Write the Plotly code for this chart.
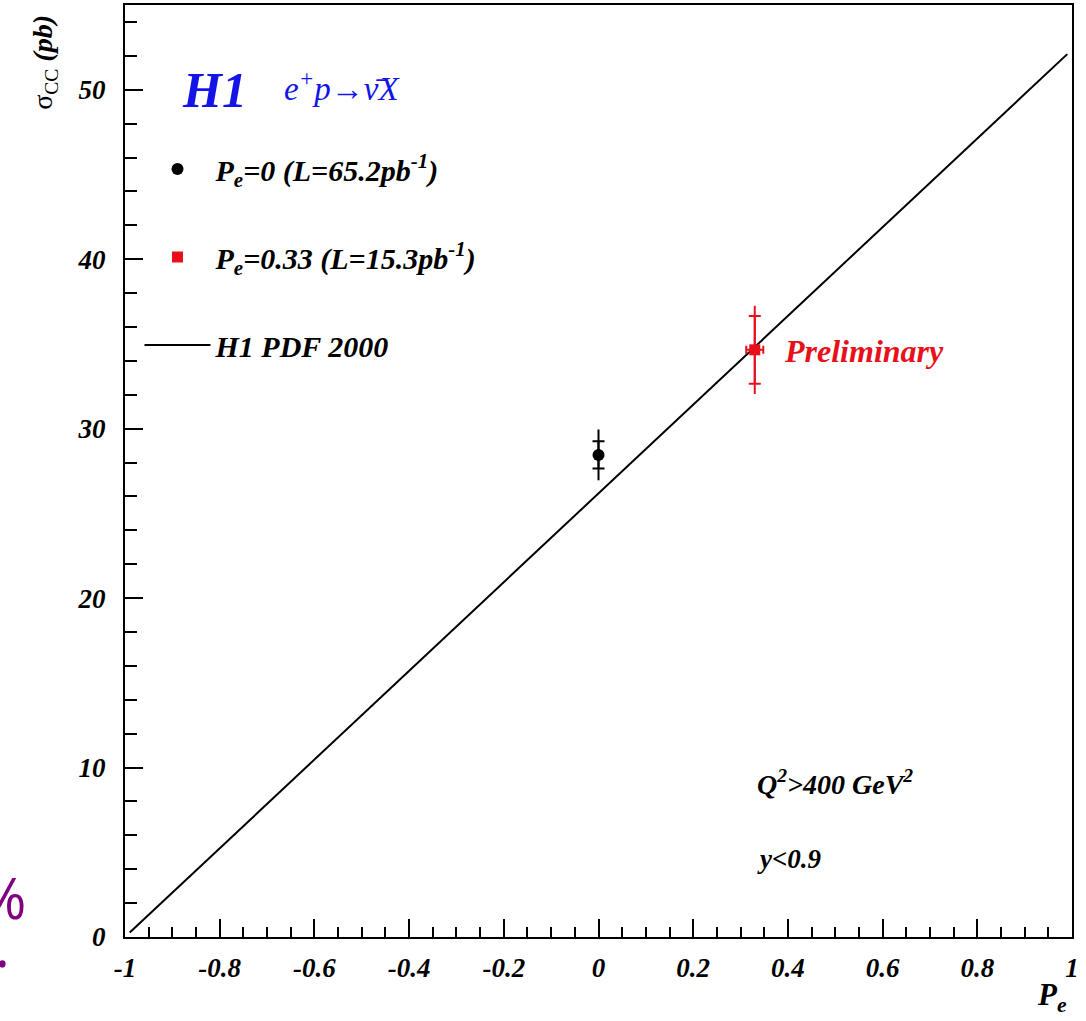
import plotly.graph_objects as go

# ---- data ----
pdf_x = [-0.99, 0.99]
pdf_y = [0.26, 52.1]

pe0_x = [0.0]
pe0_y = [28.45]
pe0_stat = [0.8]
pe0_tot = [1.5]

pe33_x = [0.33]
pe33_y = [34.65]
pe33_stat = [2.0]
pe33_tot = [2.6]
pe33_xerr = [0.018]

x_tickvals = [-1, -0.8, -0.6, -0.4, -0.2, 0, 0.2, 0.4, 0.6, 0.8, 1]
x_ticktext = ["-1", "-0.8", "-0.6", "-0.4", "-0.2", "0", "0.2", "0.4", "0.6", "0.8", "1"]
y_tickvals = [0, 10, 20, 30, 40, 50]
y_ticktext = ["0", "10", "20", "30", "40", "50"]

SERIF = "Liberation Serif, Times New Roman, serif"
RED = "#e8101a"
BLUE = "#1414e6"
PURPLE = "#800080"

fig = go.Figure()

fig.add_trace(go.Scatter(x=pdf_x, y=pdf_y, mode="lines",
                         line=dict(color="black", width=2),
                         name="<b><i>H1 PDF 2000</i></b>", legendrank=3,
                         legendgroup="c"))

# black point: total and stat errors
fig.add_trace(go.Scatter(x=pe0_x, y=pe0_y, mode="markers", marker=dict(size=1, color="black", opacity=0),
                         error_y=dict(type="data", array=pe0_tot, color="black", thickness=2, width=0),
                         showlegend=False, hoverinfo="skip"))
fig.add_trace(go.Scatter(x=pe0_x, y=pe0_y, mode="markers", marker=dict(size=1, color="black", opacity=0),
                         error_y=dict(type="data", array=pe0_stat, color="black", thickness=2, width=6),
                         showlegend=False, hoverinfo="skip"))
fig.add_trace(go.Scatter(x=pe0_x, y=pe0_y, mode="markers",
                         marker=dict(symbol="circle", size=12, color="black"),
                         name="<b><i>P<sub>e</sub>=0 (L=65.2pb<sup>-1</sup>)</i></b>",
                         legendrank=1, legendgroup="a"))

# red point
fig.add_trace(go.Scatter(x=pe33_x, y=pe33_y, mode="markers", marker=dict(size=1, color=RED, opacity=0),
                         error_y=dict(type="data", array=pe33_tot, color=RED, thickness=2, width=0),
                         error_x=dict(type="data", array=pe33_xerr, color=RED, thickness=2, width=4),
                         showlegend=False, hoverinfo="skip"))
fig.add_trace(go.Scatter(x=pe33_x, y=pe33_y, mode="markers", marker=dict(size=1, color=RED, opacity=0),
                         error_y=dict(type="data", array=pe33_stat, color=RED, thickness=2, width=6),
                         showlegend=False, hoverinfo="skip"))
fig.add_trace(go.Scatter(x=pe33_x, y=pe33_y, mode="markers",
                         marker=dict(symbol="square", size=11, color=RED),
                         name="<b><i>P<sub>e</sub>=0.33 (L=15.3pb<sup>-1</sup>)</i></b>",
                         legendrank=2, legendgroup="b"))

axis_common = dict(showgrid=False, zeroline=False, showline=True, linecolor="black",
                   linewidth=2, mirror=True, ticks="inside", tickcolor="black", tickwidth=2,
                   tickfont=dict(family=SERIF, size=27, color="black", style="italic", weight="bold"))

fig.update_xaxes(range=[-1, 1], tickvals=x_tickvals, ticktext=x_ticktext, ticklen=18,
                 minor=dict(ticks="inside", dtick=0.05, tick0=0, ticklen=10, tickwidth=2, tickcolor="black"),
                 ticklabelstandoff=6, automargin=False, **axis_common)
fig.update_yaxes(range=[0, 55], tickvals=y_tickvals, ticktext=y_ticktext, ticklen=18,
                 minor=dict(ticks="inside", dtick=2, tick0=0, ticklen=12, tickwidth=2, tickcolor="black"),
                 ticklabelstandoff=12, automargin=False, **axis_common)

fig.update_layout(
    width=1086, height=1021,
    margin=dict(l=125, r=14, t=5, b=84),
    paper_bgcolor="white", plot_bgcolor="white",
    showlegend=True,
    legend=dict(x=0.0153, y=0.852, xanchor="left", yanchor="top",
                font=dict(family=SERIF, size=30, color="black"),
                bgcolor="rgba(0,0,0,0)", borderwidth=0,
                tracegroupgap=46, itemwidth=66),
    annotations=[
        dict(text="<b><i>H1</i></b>", x=-0.884, y=50, xref="x", yref="y", xanchor="left", yanchor="middle",
             showarrow=False, font=dict(family=SERIF, size=50, color=BLUE)),
        dict(text="<i>e<sup>+</sup>p→ν\u0304X</i>", x=-0.668, y=50.2, xref="x", yref="y",
             xanchor="left", yanchor="middle",
             showarrow=False, font=dict(family=SERIF, size=33, color=BLUE)),
        dict(text="<b><i>Preliminary</i></b>", x=0.3875, y=34.6, xref="x", yref="y", xanchor="left",
             yanchor="middle", showarrow=False, font=dict(family=SERIF, size=32, color=RED)),
        dict(text="<b><i>Q<sup>2</sup>>400 GeV<sup>2</sup></i></b>", x=0.33, y=9.1, xref="x", yref="y",
             xanchor="left", yanchor="middle", showarrow=False,
             font=dict(family=SERIF, size=28, color="black")),
        dict(text="<b><i>y<0.9</i></b>", x=0.33, y=4.6, xref="x", yref="y",
             xanchor="left", yanchor="middle", showarrow=False,
             font=dict(family=SERIF, size=27, color="black")),
        dict(text="σ<sub>CC</sub> <b><i>(pb)</i></b>", x=-0.0845, y=0.939, xref="paper", yref="paper",
             xanchor="center", yanchor="middle", textangle=-90, showarrow=False,
             font=dict(family=SERIF, size=28, color="black")),
        dict(text="<b><i>P<sub>e</sub></i></b>", x=0.979, y=-0.064, xref="paper", yref="paper",
             xanchor="center", yanchor="middle", showarrow=False,
             font=dict(family=SERIF, size=31, color="black")),
        dict(text="%", x=-0.1025, y=0.043, xref="paper", yref="paper", xanchor="right",
             yanchor="middle", showarrow=False, font=dict(family="Open Sans", size=56, color=PURPLE)),
        dict(text=".", x=-0.119, y=-0.0086, xref="paper", yref="paper", xanchor="right",
             yanchor="middle", showarrow=False, font=dict(family="Open Sans", size=56, color=PURPLE)),
    ],
)

fig.write_html("out.html", config={"displayModeBar": False},
               post_script="document.body.style.margin='0px';")
